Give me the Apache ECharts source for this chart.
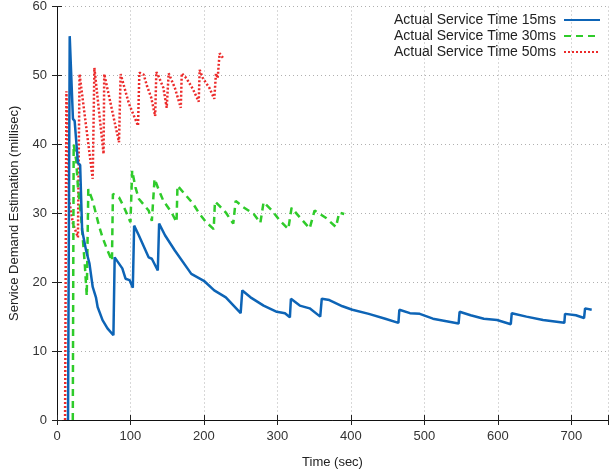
<!doctype html>
<html>
    <head>
        <meta charset="utf-8">
        <title>Service Demand Estimation</title>
        <style>
            html, body { margin: 0; padding: 0; background: #fff; }
            #main { width: 611px; height: 474px; }
        </style>
    </head>
    <body>
        <div id="main"></div>
        <script src="https://cdn.jsdelivr.net/npm/echarts@6/dist/echarts.min.js"></script>
        <script>
            var seriesNames = ['Actual Service Time 15ms', 'Actual Service Time 30ms', 'Actual Service Time 50ms'];

            // 15ms
            var t15 = [15, 16, 17.3, 21.7, 24, 28.5, 31.5, 34.2, 35.2, 39.6, 44.2, 48.6, 53, 55.3, 62, 68.7, 76.8,
                78.5, 88.9, 93.3, 98.7, 103.2, 105, 111.3, 124.7, 129.1, 137.2, 139, 147, 160.4, 182.8, 199.9,
                214, 229.8, 250, 252.2, 263.4, 281.2, 299.2, 310.3, 317, 318.4, 330.5, 343.9, 358.3, 360.4,
                370.7, 388.6, 402, 424.4, 446.8, 464.7, 466, 480.4, 493.8, 511.7, 546.6, 548, 563, 581, 599,
                617.7, 619, 639, 661.6, 690.6, 691.5, 706.3, 717.4, 718.8, 727.8];
            var v15 = [0, 0, 55.7, 43.7, 43.4, 37.3, 37, 27.5, 27, 24.6, 22.7, 19.3, 17.8, 16.4, 14.5, 13.3, 12.3,
                23.6, 22, 20.5, 20.3, 19.2, 28.2, 26.8, 23.6, 23.4, 21.7, 28.5, 26.8, 24.6, 21.2, 20.2,
                18.8, 17.8, 15.5, 18.8, 17.8, 16.6, 15.7, 15.5, 14.9, 17.6, 16.6, 16.2, 15.0, 17.6,
                17.4, 16.5, 16.0, 15.4, 14.7, 14.1, 16.0, 15.5, 15.4, 14.7, 14.0, 15.7, 15.2, 14.7, 14.5,
                13.9, 15.5, 15.0, 14.5, 14.1, 15.4, 15.2, 14.8, 16.2, 16.0];

            // 30ms
            var t30 = [21.5, 22.7, 22.7, 26.2, 28.5, 32.9, 37.9, 40.5, 42.6, 48.6, 57.6, 62, 68.7, 74.8, 76.1,
                84.4, 91.1, 100, 102.3, 106.7, 111.3, 124.7, 129.1, 132.8, 138.1, 144.8, 156, 162.7, 164,
                173.8, 185.1, 194, 203, 213.3, 215, 220.8, 229.8, 239.9, 243.2, 253.3, 267.8, 276.8, 281.2,
                292.5, 303.6, 314.8, 319.3, 330.5, 343.9, 350.6, 366.3, 379.7, 384.2, 390.9];
            var v30 = [0, 0, 40, 37.6, 33.8, 29.4, 22.5, 18, 33.5, 31.8, 28, 26.5, 24.6, 23.1, 32.8,
                32.3, 30.9, 28.7, 36.2, 33.8, 32.1, 30.4, 28.9, 35, 33.5, 31.8, 30.1, 28.7, 34,
                32.8, 31.4, 29.9, 28.7, 27.7, 31.7, 31.1, 30.1, 28.5, 31.8, 30.9, 29.9, 28.6, 31.6,
                30.4, 28.9, 27.7, 30.8, 29.4, 27.8, 30.4, 29.3, 28, 30.1, 29.9];

            // 50ms
            var t50 = [11, 12.8, 12.8, 16.4, 21.7, 28.5, 30.7, 48.6, 50.9, 63.4, 64.3, 84.4, 86.6, 97.9, 110.3,
                112.1, 118, 122.4, 128.2, 133.6, 135.2, 138.1, 144.8, 149.3, 152, 160.4, 168.5, 169.8,
                176.1, 185.1, 192.9, 194.2, 198.5, 207.4, 214.1, 216.4, 218.7, 221.3, 226.2];
            var v50 = [0, 0, 47.7, 32, 28.5, 26.5, 50.2, 35, 51.1, 38.6, 50.2, 40.3, 50.2, 45.9, 42.7,
                50.4, 50.1, 48.5, 46.8, 44.1, 50.5, 49.9, 48.2, 45.3, 50.3, 48.2, 45.3, 50.3,
                49.6, 48, 46.2, 50.8, 49.6, 48.2, 46.6, 50.3, 49.6, 53.2, 52.5];

            var xTicks = [0, 100, 200, 300, 400, 500, 600, 700];
            var yTicks = [0, 10, 20, 30, 40, 50, 60];

            function pairs(xs, ys) {
                return xs.map(function (x, i) { return [x, ys[i]]; });
            }

            var colors = ['#0d64b6', '#2fcb2a', '#ec2a2a'];
            var font = 'Liberation Sans, Arial, sans-serif';
            var gridLine = { show: true, lineStyle: { color: '#b0b0b0', type: [1, 3], width: 1 } };
            var tick = { show: true, inside: true, length: 5, lineStyle: { color: '#222' } };

            var chart = echarts.init(document.getElementById('main'));

            chart.setOption({
                animation: false,
                color: colors,
                grid: { left: 54, right: -2, top: 5, bottom: 54 },
                legend: {
                    data: seriesNames,
                    orient: 'vertical',
                    right: 5,
                    top: 8,
                    align: 'right',
                    itemWidth: 36,
                    itemHeight: 12,
                    itemGap: 2,
                    itemStyle: { opacity: 0 },
                    textStyle: { fontFamily: font, fontSize: 14, color: '#222', padding: [0, 3, 0, 0] }
                },
                xAxis: [{
                    type: 'value',
                    min: 0,
                    max: 750,
                    interval: 100,
                    name: 'Time (sec)',
                    nameLocation: 'middle',
                    nameGap: 36,
                    nameTextStyle: { fontFamily: font, fontSize: 13, color: '#222' },
                    axisLine: { show: true, lineStyle: { color: '#111', width: 1 } },
                    axisTick: tick,
                    axisLabel: {
                        fontFamily: font, fontSize: 13, color: '#333', margin: 10,
                        formatter: function (v) { return xTicks.indexOf(v) >= 0 ? String(v) : ''; }
                    },
                    splitLine: gridLine
                }, {
                    type: 'value',
                    position: 'top',
                    min: 0,
                    max: 750,
                    interval: 100,
                    axisLine: { show: true, lineStyle: { color: '#111', width: 1 } },
                    axisTick: tick,
                    axisLabel: { show: false },
                    splitLine: { show: false }
                }],
                yAxis: [{
                    type: 'value',
                    min: 0,
                    max: 60,
                    interval: 10,
                    name: 'Service Demand Estimation (millisec)',
                    nameLocation: 'middle',
                    nameGap: 36,
                    nameTextStyle: { fontFamily: font, fontSize: 13, color: '#222' },
                    axisLine: { show: true, lineStyle: { color: '#666', width: 1 } },
                    axisTick: tick,
                    axisLabel: {
                        fontFamily: font, fontSize: 13, color: '#333', margin: 10,
                        formatter: function (v) { return yTicks.indexOf(v) >= 0 ? String(v) : ''; }
                    },
                    splitLine: gridLine
                }, {
                    type: 'value',
                    position: 'right',
                    min: 0,
                    max: 60,
                    interval: 10,
                    axisLine: { show: true, lineStyle: { color: '#111', width: 1 } },
                    axisTick: tick,
                    axisLabel: { show: false },
                    splitLine: { show: false }
                }],
                series: [{
                    name: seriesNames[0],
                    type: 'line',
                    symbol: 'none',
                    data: pairs(t15, v15),
                    lineStyle: { width: 2.5, color: colors[0] },
                    z: 3
                }, {
                    name: seriesNames[1],
                    type: 'line',
                    symbol: 'none',
                    data: pairs(t30, v30),
                    lineStyle: { width: 2.5, color: colors[1], type: [7, 5] },
                    z: 2
                }, {
                    name: seriesNames[2],
                    type: 'line',
                    symbol: 'none',
                    data: pairs(t50, v50),
                    lineStyle: { width: 2.5, color: colors[2], type: [2, 2] },
                    z: 1
                }]
            });

            window.addEventListener('resize', function () {
                chart.resize();
            });
        </script>
    </body>
</html>
